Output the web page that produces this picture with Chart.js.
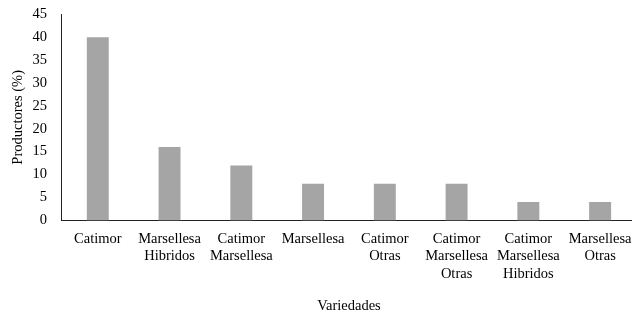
<!DOCTYPE html>
<html>
<head>
<meta charset="utf-8">
<script src="https://cdn.jsdelivr.net/npm/chart.js@4/dist/chart.umd.min.js"></script>
<style>
  html, body { margin: 0; padding: 0; background: #fff; overflow: hidden; }
  #wrap { width: 636px; height: 318px; }
</style>
</head>
<body>
<div id="wrap"><canvas id="canvas"></canvas></div>
<script>
var variedades = [
    ['Catimor'],
    ['Marsellesa', 'Hibridos'],
    ['Catimor', 'Marsellesa'],
    ['Marsellesa'],
    ['Catimor', 'Otras'],
    ['Catimor', 'Marsellesa', 'Otras'],
    ['Catimor', 'Marsellesa', 'Hibridos'],
    ['Marsellesa', 'Otras']
];
var productores = [40, 16, 12, 8, 8, 8, 4, 4];
var yTicks = [0, 5, 10, 15, 20, 25, 30, 35, 40, 45];

var serif = '"Liberation Serif", "Times New Roman", serif';

window.onload = function() {
    var ctx = document.getElementById('canvas').getContext('2d');
    window.myBar = new Chart(ctx, {
        type: 'bar',
        data: {
            labels: variedades,
            datasets: [{
                label: 'Productores',
                backgroundColor: '#a5a5a5',
                borderWidth: 0,
                categoryPercentage: 1,
                barPercentage: 0.306,
                data: productores
            }]
        },
        options: {
            responsive: true,
            maintainAspectRatio: false,
            animation: false,
            layout: { padding: { top: -10, right: 0, left: 9, bottom: 3 } },
            plugins: {
                legend: { display: false },
                tooltip: { enabled: false }
            },
            scales: {
                x: {
                    grid: { display: false },
                    border: { display: true, color: '#222', width: 1 },
                    ticks: {
                        color: '#000',
                        padding: 2,
                        maxRotation: 0,
                        autoSkip: false,
                        font: { family: serif, size: 14.5, lineHeight: 1.2 }
                    },
                    title: {
                        display: true,
                        text: 'Variedades',
                        color: '#000',
                        padding: { top: 13, bottom: 0 },
                        font: { family: serif, size: 14.5 }
                    }
                },
                y: {
                    min: 0,
                    max: 45,
                    afterBuildTicks: function(axis) {
                        axis.ticks = yTicks.map(function(v) { return { value: v }; });
                    },
                    grid: { display: false },
                    border: { display: true, color: '#222', width: 1 },
                    ticks: {
                        color: '#000',
                        padding: 7,
                        font: { family: serif, size: 14.5, lineHeight: 1 }
                    },
                    title: {
                        display: true,
                        text: 'Productores (%)',
                        color: '#000',
                        padding: { top: 0, bottom: -1 },
                        font: { family: serif, size: 14.5 }
                    }
                }
            }
        }
    });
};
</script>
</body>
</html>
